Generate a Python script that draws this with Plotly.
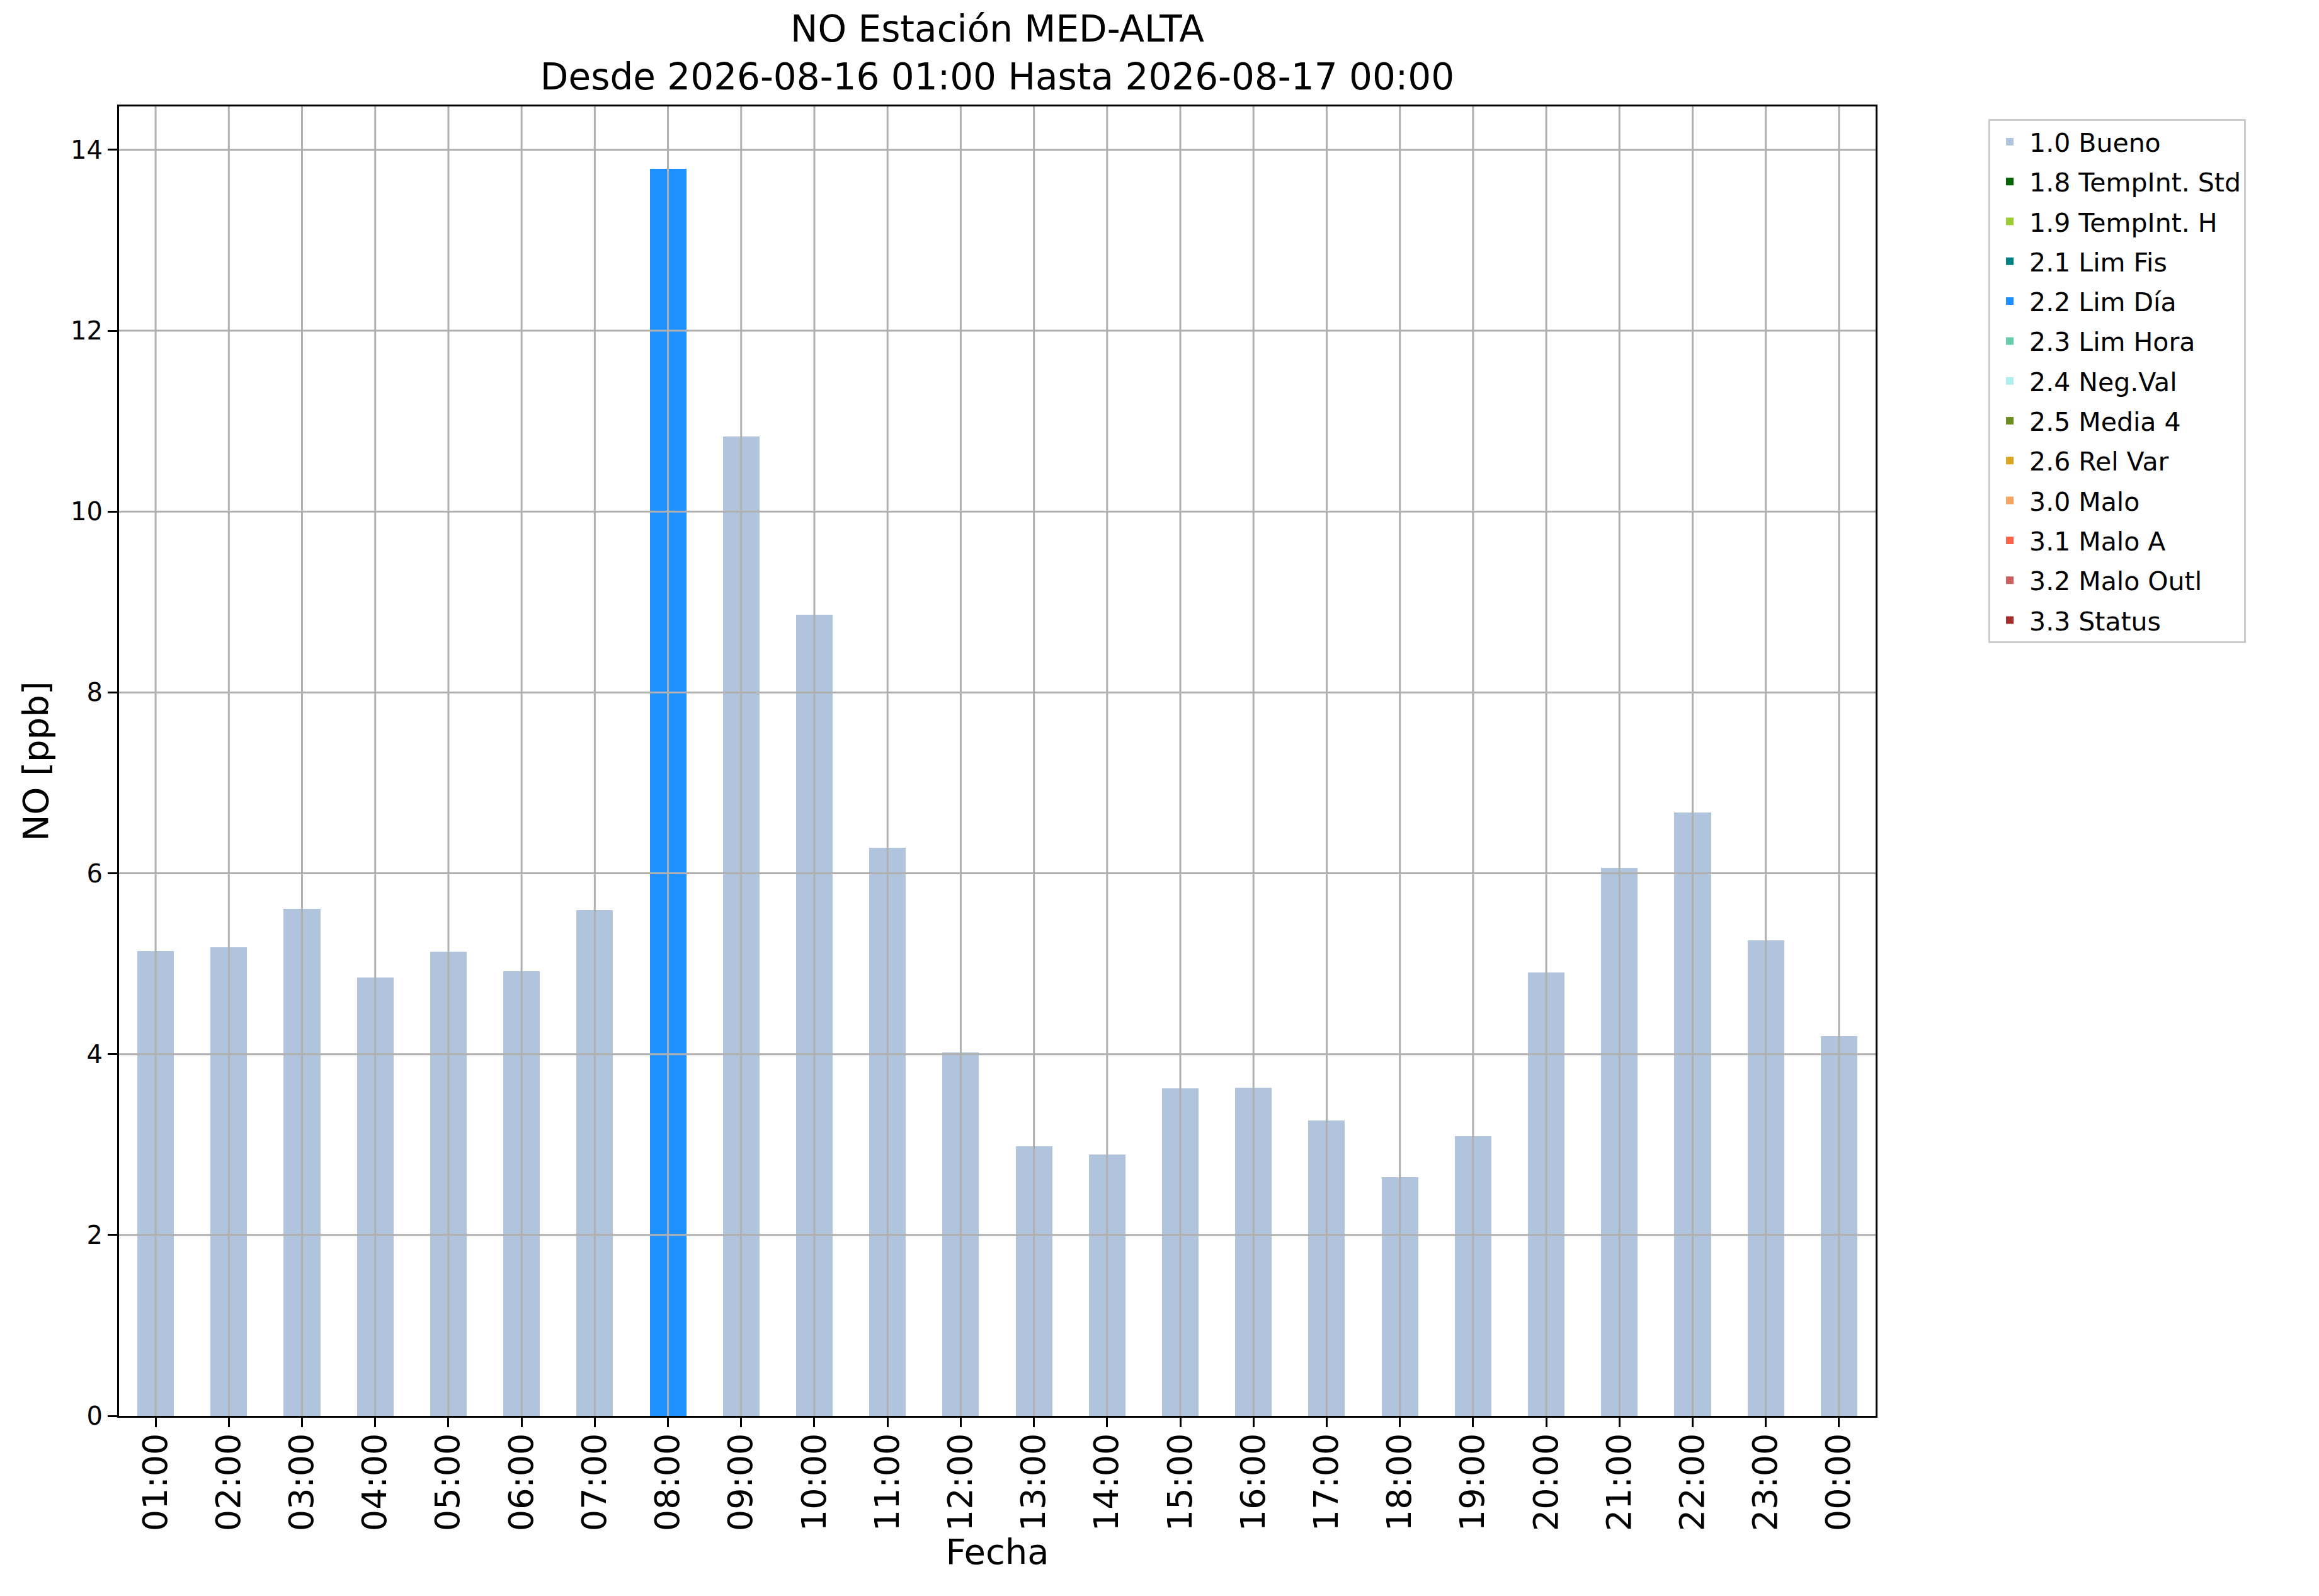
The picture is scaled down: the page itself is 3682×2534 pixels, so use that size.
import plotly.graph_objects as go

# hourly NO values, 2026-08-16 01:00 .. 2026-08-17 00:00
hours = ['01:00', '02:00', '03:00', '04:00', '05:00', '06:00', '07:00', '08:00',
         '09:00', '10:00', '11:00', '12:00', '13:00', '14:00', '15:00', '16:00',
         '17:00', '18:00', '19:00', '20:00', '21:00', '22:00', '23:00', '00:00']
no_ppb = [5.14, 5.18, 5.61, 4.85, 5.13, 4.92, 5.59, 13.79,
          10.83, 8.86, 6.28, 4.02, 2.98, 2.89, 3.62, 3.63,
          3.27, 2.64, 3.09, 4.90, 6.06, 6.67, 5.26, 4.20]
flags = ['1.0', '1.0', '1.0', '1.0', '1.0', '1.0', '1.0', '2.2',
         '1.0', '1.0', '1.0', '1.0', '1.0', '1.0', '1.0', '1.0',
         '1.0', '1.0', '1.0', '1.0', '1.0', '1.0', '1.0', '1.0']

flag_codes = ['1.0', '1.8', '1.9', '2.1', '2.2', '2.3', '2.4', '2.5', '2.6', '3.0', '3.1', '3.2', '3.3']
flag_names = ['Bueno', 'TempInt. Std', 'TempInt. H', 'Lim Fis', 'Lim Día', 'Lim Hora', 'Neg.Val',
              'Media 4', 'Rel Var', 'Malo', 'Malo A', 'Malo Outl', 'Status']
flag_colors = ['#B0C4DE', '#006400', '#9ACD32', '#008080', '#1E90FF', '#66CDAA', '#AFEEEE',
               '#6B8E23', '#DAA520', '#F4A460', '#FF6347', '#CD5C5C', '#A52A2A']

y_ticks = [0, 2, 4, 6, 8, 10, 12, 14]

FONT = 'DejaVu Sans'
GRID = '#b0b0b0'

fig = go.Figure()
for code, name, color in zip(flag_codes, flag_names, flag_colors):
    vals = [v if f == code else 0 for v, f in zip(no_ppb, flags)]
    fig.add_trace(go.Bar(
        name='%s %s' % (code, name), x=hours, y=vals, width=0.5,
        marker=dict(color=color, line=dict(width=0)), legendgroup=code))

# matplotlib draws its grid over the bars
shapes = []
for t in y_ticks[1:]:
    shapes.append(dict(type='line', xref='paper', yref='y', x0=0, x1=1, y0=t, y1=t,
                       line=dict(color=GRID, width=3), layer='above'))
for h in hours:
    shapes.append(dict(type='line', xref='x', yref='paper', x0=h, x1=h, y0=0, y1=1,
                       line=dict(color=GRID, width=3), layer='above'))

fig.update_layout(
    width=3682, height=2534,
    barmode='stack',
    bargap=0.5,
    plot_bgcolor='white', paper_bgcolor='white',
    margin=dict(l=181, r=712, t=161, b=294, autoexpand=False),
    font=dict(family=FONT, color='black'),
    shapes=shapes,
    title=dict(text='NO Estación MED-ALTA<br>Desde 2026-08-16 01:00 Hasta 2026-08-17 00:00',
               x=0.5, xref='paper', xanchor='center',
               y=0.977, yref='container', yanchor='top',
               font=dict(family=FONT, size=58, color='black')),
    legend=dict(x=1.0642, y=0.9905, xanchor='left', yanchor='top',
                bordercolor='#cccccc', borderwidth=3, bgcolor='white',
                font=dict(family=FONT, size=41, color='black'),
                itemwidth=52, tracegroupgap=7, traceorder='grouped'),
)
fig.update_xaxes(
    type='category', range=[-0.5, len(hours) - 0.5],
    showgrid=False, showline=True, linecolor='black', linewidth=3, mirror=True,
    ticks='outside', ticklen=15, tickwidth=3, tickcolor='black', tickangle=-90,
    ticklabelstandoff=-12,
    tickfont=dict(family=FONT, size=54, color='black'),
    title=dict(text='Fecha', font=dict(family=FONT, size=56, color='black'), standoff=12),
    automargin=False,
)
fig.update_yaxes(
    range=[0, 14.48], tickvals=y_ticks,
    showgrid=False, zeroline=False, showline=True, linecolor='black', linewidth=3, mirror=True,
    ticks='outside', ticklen=15, tickwidth=3, tickcolor='black',
    tickfont=dict(family=FONT, size=40, color='black'),
    title=dict(text='NO [ppb]', font=dict(family=FONT, size=56, color='black'), standoff=18),
    automargin=False,
)

fig.write_html('out.html')
